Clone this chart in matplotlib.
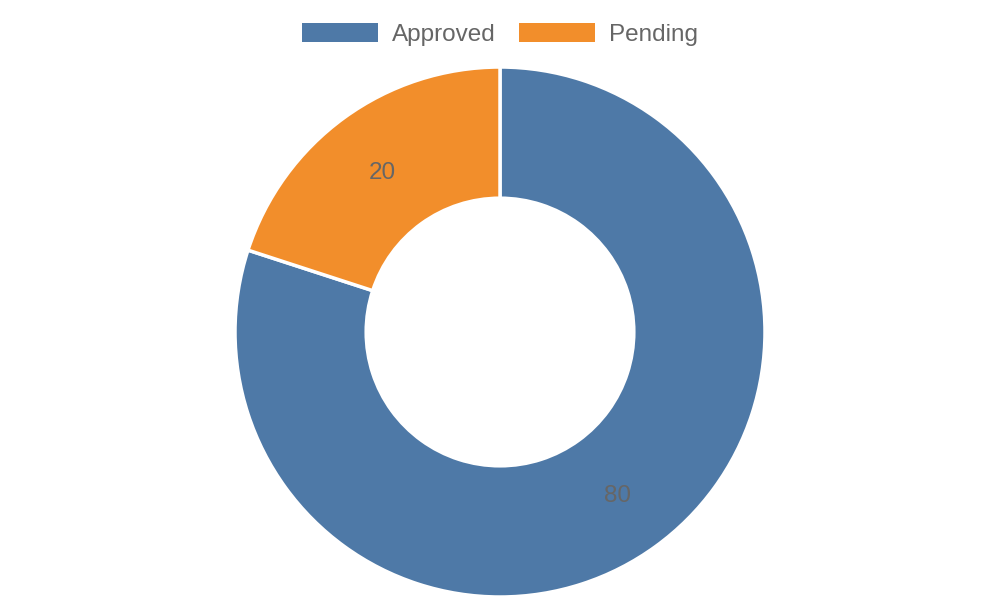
import matplotlib.pyplot as plt
from matplotlib.patches import Patch

plt.rcParams['font.family'] = ['Liberation Sans', 'DejaVu Sans']

# Data
categories = ['Approved', 'Pending']
values = [80, 20]
colors = ['#4e79a7', '#f28e2b']

fig = plt.figure(figsize=(10, 6), dpi=100)
ax = fig.add_axes([0.235, 0.005, 0.53, 0.8833])

wedges, texts = ax.pie(
    values,
    labels=[str(v) for v in values],
    colors=colors,
    startangle=90,
    counterclock=False,
    radius=1.0,
    labeldistance=0.755,
    wedgeprops=dict(width=0.495, edgecolor='white', linewidth=2.5),
    textprops=dict(color='#666666', fontsize=17.5, ha='center', va='center_baseline'),
)
for t in texts:
    t.set_horizontalalignment('center')
    t.set_verticalalignment('center_baseline')
ax.set_xlim(-1.0, 1.0)
ax.set_ylim(-1.0, 1.0)
ax.set_aspect('equal')

handles = [Patch(facecolor=c, edgecolor='none') for c in colors]
fig.legend(handles, categories, loc='center', bbox_to_anchor=(0.5, 0.943),
           ncol=2, frameon=False, fontsize=17.5, labelcolor='#666666',
           handlelength=3.13, handleheight=0.82, columnspacing=0.95, handletextpad=0.58)

fig.savefig('out.png', dpi=100)
